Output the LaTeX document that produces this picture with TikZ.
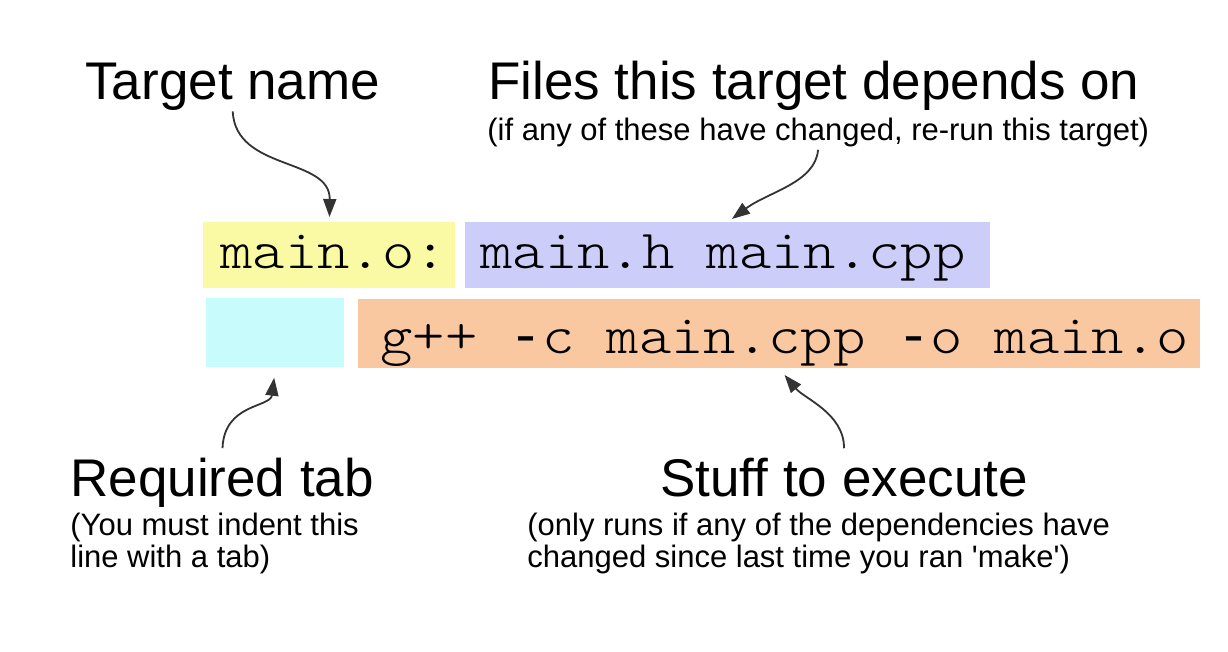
\documentclass[tikz,border=0pt]{standalone}
\usepackage{fontspec}
\setmainfont{Liberation Sans}
\newfontfamily\codefont[FakeStretch=1.12]{lmmonolt10-regular.otf}
\newfontfamily\dashfont{Liberation Mono}
\newcommand\tsp{\hspace*{16.17pt}}
\newcommand\thy{\makebox[16.17pt][c]{\dashfont-}}
\usetikzlibrary{arrows.meta}
\definecolor{tgtyellow}{RGB}{250,250,165}
\definecolor{deplilac}{RGB}{205,205,250}
\definecolor{tabcyan}{RGB}{200,252,252}
\definecolor{cmdorange}{RGB}{250,200,160}

\begin{document}
\begin{tikzpicture}[x=0.5pt,y=-0.5pt,
  head/.style={font=\fontsize{26.5}{30}\selectfont, inner sep=0pt, anchor=base west},
  note/.style={font=\fontsize{15.5}{16}\selectfont, inner sep=0pt, align=left},
  codebox/.style={font=\codefont\fontsize{27.5}{30}\selectfont, inner ysep=0pt, align=left, anchor=north west},
  pointer/.style={draw=black!80, line width=0.9pt, -{Triangle[length=9pt,width=6.5pt]}}]
\useasboundingbox[fill=white] (0,0) rectangle (1228,652);

\node[codebox, fill=tgtyellow, inner xsep=8.5pt, text width=109pt, text height=23pt, text depth=10pt] (target) at (203,222) {main.o:};
\node[codebox, fill=deplilac, inner xsep=7.5pt, text width=247.5pt, text height=23pt, text depth=10pt] (deps) at (465,222) {main.h\tsp main.cpp};
\node[codebox, fill=tabcyan, inner xsep=0pt, text width=69pt, text height=27pt, text depth=7.5pt] (tab) at (206,298) {};
\node[codebox, fill=cmdorange, inner xsep=11pt, text width=399pt, text height=27pt, text depth=7.5pt] (cmd) at (358,299) {g++\tsp\thy c\tsp main.cpp\tsp\thy o\tsp main.o};

\node[head] (tname) at (85,100) {Target name};
\node[head] (fname) at (488,100) {Files this target depends on};
\node[note, anchor=base west] (fsub) at (487,141) {(if any of these have changed, re-run this target)};
\node[head] (rtab) at (70,497) {Required tab};
\node[note, anchor=north west] (rsub) at (70,513) {(You must indent this\\line with a tab)};
\node[head] (stuff) at (660,497) {Stuff to execute};
\node[note, anchor=north west] (ssub) at (527,513) {(only runs if any of the dependencies have\\changed since last time you ran \textquotesingle make\textquotesingle)};

\draw[pointer, shorten >=2.5pt] (tname.south) .. controls +(3,60) and +(1,-65) .. (target.north);
\draw[pointer, shorten <=1pt, shorten >=2.5pt] (fsub.south) .. controls +(-3,35) and +(40,-30) .. (deps.north);
\draw[pointer, shorten <=5pt, shorten >=5pt] (rtab.north) .. controls +(2,-55) and +(-5,40) .. (tab.south);
\draw[pointer, shorten <=5pt, shorten >=4pt] (stuff.north) .. controls +(0,-45) and +(25,30) .. (cmd.south);
\end{tikzpicture}
\end{document}
